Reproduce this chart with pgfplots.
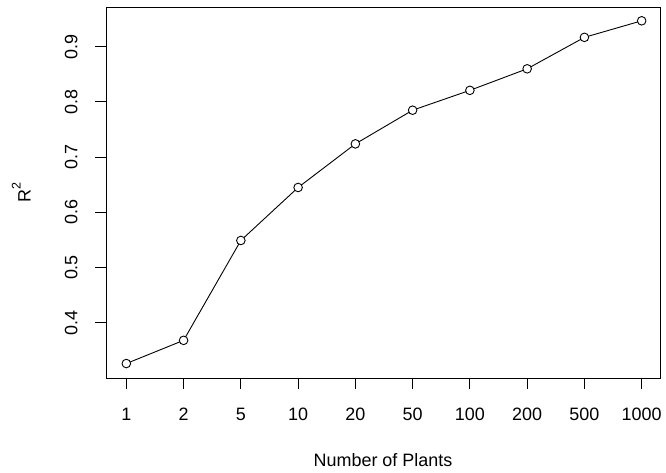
\documentclass[border=0pt]{standalone}
\usepackage{pgfplots}
\pgfplotsset{compat=1.18}
\usepackage{fontspec}
\setmainfont{Liberation Sans}
\begin{document}
\fontsize{18}{21}\selectfont
\begin{tikzpicture}
\path[use as bounding box] (-106bp,-95bp) rectangle (560bp,378bp);
\begin{axis}[
  at={(0,0)}, anchor=south west,
  scale only axis, width=554bp, height=371bp,
  xmin=-0.355, xmax=9.32, ymin=0.2998, ymax=0.972,
  axis line style={line width=0.9bp},
  tick style={line width=0.9bp, black},
  tick align=outside, major tick length=11bp,
  xtick={0,1,2,3,4,5,6,7,8,9},
  xticklabels={1,2,5,10,20,50,100,200,500,1000},
  ytick={0.4,0.5,0.6,0.7,0.8,0.9},
  yticklabels={0.4,0.5,0.6,0.7,0.8,0.9},
  xtick pos=bottom, ytick pos=left,
  xticklabel style={anchor=base, inner sep=0pt, yshift=-31bp},
  yticklabel style={xshift=-17.7bp, rotate=90, anchor=base, inner sep=0pt},
  xlabel={Number of Plants},
  ylabel={R\raisebox{10bp}{\fontsize{12.6}{13}\selectfont 2}},
  xlabel style={at={(axis description cs:0.5,-0.2391)}, anchor=base, inner sep=0pt},
  ylabel style={at={(axis description cs:-0.1359,0.5)}, anchor=base, inner sep=0pt, rotate=0},
]
\addplot[black, line width=0.9bp, mark=*, mark size=4.3bp, mark options={fill=white, line width=0.9bp}]
coordinates {
(0,0.326) (1,0.368) (2,0.549) (3,0.645) (4,0.724) (5,0.785) (6,0.821) (7,0.860) (8,0.917) (9,0.947)
};
\end{axis}
\end{tikzpicture}
\end{document}
